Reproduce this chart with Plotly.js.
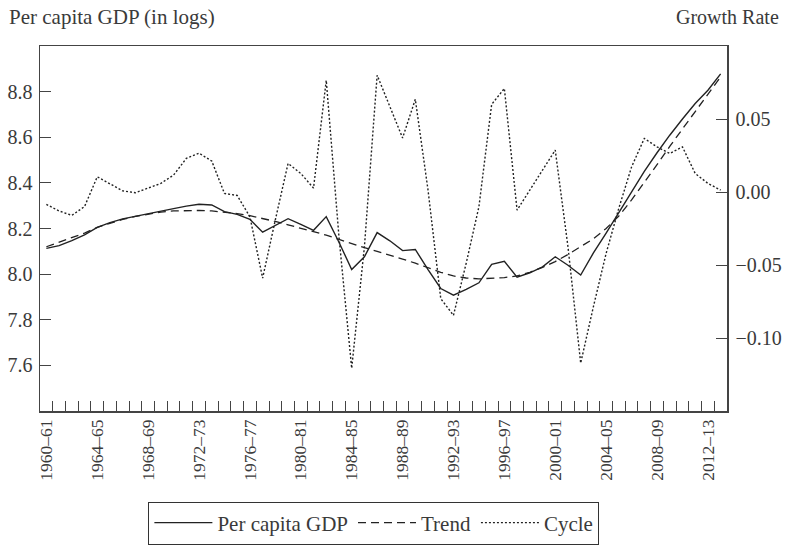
<!DOCTYPE html>
<html>
<head>
<meta charset="utf-8">
<script src="https://cdn.plot.ly/plotly-3.0.1.min.js"></script>
<style>html,body{margin:0;padding:0;background:#fff}#chart{width:786px;height:548px}</style>
</head>
<body>
<div id="chart"></div>
<script>
// Fiscal years 1960–61 ... 2013–14
const years = [];
for (let y = 1960; y <= 2013; y++) years.push(y + '\u2013' + String((y + 1) % 100).padStart(2, '0'));

const perCapitaGDP = [8.113, 8.125, 8.147, 8.172, 8.205, 8.226, 8.242, 8.254, 8.266, 8.277,
  8.287, 8.298, 8.306, 8.303, 8.274, 8.262, 8.240, 8.184, 8.213, 8.243,
  8.218, 8.192, 8.252, 8.140, 8.020, 8.076, 8.182, 8.146, 8.103, 8.108,
  8.020, 7.937, 7.908, 7.933, 7.962, 8.043, 8.056, 7.987, 8.006, 8.032,
  8.076, 8.039, 7.996, 8.093, 8.180, 8.270, 8.360, 8.450, 8.532, 8.609,
  8.680, 8.748, 8.806, 8.878];

const trend = [8.120, 8.140, 8.160, 8.180, 8.205, 8.224, 8.240, 8.253, 8.264, 8.272,
  8.277, 8.279, 8.279, 8.277, 8.272, 8.265, 8.256, 8.245, 8.231, 8.216,
  8.202, 8.187, 8.171, 8.152, 8.133, 8.116, 8.100, 8.084, 8.066, 8.048,
  8.028, 8.008, 7.992, 7.983, 7.979, 7.981, 7.985, 7.992, 8.008, 8.030,
  8.055, 8.086, 8.120, 8.155, 8.200, 8.255, 8.325, 8.400, 8.480, 8.560,
  8.637, 8.715, 8.790, 8.865];

const cycle = [-0.0085, -0.0130, -0.0160, -0.0100, 0.0104, 0.0054, 0.0008, -0.0005, 0.0025, 0.0059,
  0.0116, 0.0230, 0.0266, 0.0212, -0.0010, -0.0024, -0.0170, -0.0590, -0.0190, 0.0196,
  0.0127, 0.0027, 0.0765, -0.0307, -0.1207, -0.0375, 0.0800, 0.0583, 0.0370, 0.0635,
  0.0013, -0.0730, -0.0845, -0.0488, -0.0101, 0.0600, 0.0709, -0.0124, 0.0013, 0.0150,
  0.0287, -0.0375, -0.1172, -0.0785, -0.0420, -0.0110, 0.0172, 0.0367, 0.0309, 0.0264,
  0.0309, 0.0127, 0.0059, 0.0013];

const labelEvery = 4;
const leftTicks = [7.6, 7.8, 8.0, 8.2, 8.4, 8.6, 8.8];
const leftTickText = ['7.6', '7.8', '8.0', '8.2', '8.4', '8.6', '8.8'];
const rightTicks = [-0.10, -0.05, 0.00, 0.05];
const rightTickText = ['\u22120.10', '\u22120.05', '0.00', '0.05'];

const idx = years.map((_, i) => i);
const labelIdx = idx.filter(i => i % labelEvery === 0);
const boundaries = idx.slice(0, -1).map(i => i + 0.5);

const FONT = 'Liberation Serif, Times New Roman, serif';
const TXT = '#3a3a3a';
const LINE = '#444';

const traces = [
  {x: idx, y: perCapitaGDP, name: 'Per capita GDP', type: 'scatter', mode: 'lines',
   line: {color: '#222', width: 1.4}, yaxis: 'y'},
  {x: idx, y: trend, name: 'Trend', type: 'scatter', mode: 'lines',
   line: {color: '#222', width: 1.3, dash: '8px,5px'}, yaxis: 'y'},
  {x: idx, y: cycle, name: 'Cycle', type: 'scatter', mode: 'lines',
   line: {color: '#222', width: 1.4, dash: '2px,2px'}, yaxis: 'y2'}
];

const layout = {
  width: 786, height: 548,
  margin: {l: 40, r: 59, t: 46, b: 137},
  paper_bgcolor: '#fff', plot_bgcolor: '#fff',
  font: {family: FONT, color: TXT, size: 20},
  showlegend: true,
  legend: {orientation: 'h', xref: 'paper', x: 0.486, xanchor: 'center',
    yref: 'container', y: 0.0456, yanchor: 'middle',
    bordercolor: '#333', borderwidth: 1, bgcolor: '#fff', itemwidth: 58,
    font: {family: FONT, size: 21, color: TXT}, traceorder: 'normal'},
  xaxis: {
    automargin: false,
    range: [-0.5, 53.5], showgrid: false, zeroline: false,
    showline: true, linecolor: LINE, linewidth: 1.5, mirror: true,
    tickmode: 'array', tickvals: labelIdx, ticktext: labelIdx.map(i => years[i]),
    ticks: '', tickangle: -90, tickfont: {family: FONT, size: 17.5, color: TXT},
    minor: {tickmode: 'array', tickvals: boundaries, ticks: 'inside', ticklen: 10, tickwidth: 1, tickcolor: LINE, showgrid: false}
  },
  yaxis: {
    automargin: false,
    range: [7.4, 9.0], showgrid: false, zeroline: false,
    showline: true, linecolor: LINE, linewidth: 1.5,
    tickmode: 'array', tickvals: leftTicks, ticktext: leftTickText,
    ticks: 'inside', ticklen: 11, tickwidth: 1, tickcolor: LINE,
    ticklabelstandoff: 2,
    tickfont: {family: FONT, size: 20, color: TXT}
  },
  yaxis2: {
    automargin: false,
    overlaying: 'y', side: 'right',
    range: [-0.15, 0.10], showgrid: false, zeroline: false,
    showline: true, linecolor: LINE, linewidth: 1.5,
    tickmode: 'array', tickvals: rightTicks, ticktext: rightTickText,
    ticks: 'inside', ticklen: 11, tickwidth: 1, tickcolor: LINE,
    ticklabelstandoff: 3,
    tickfont: {family: FONT, size: 20, color: TXT}
  },
  annotations: [
    {text: 'Per capita GDP (in logs)', xref: 'paper', yref: 'paper', x: -0.048, y: 1.0786,
     xanchor: 'left', yanchor: 'middle', showarrow: false, font: {family: FONT, size: 21, color: TXT}},
    {text: 'Growth Rate', xref: 'paper', yref: 'paper', x: 1.078, y: 1.0786,
     xanchor: 'right', yanchor: 'middle', showarrow: false, font: {family: FONT, size: 20, color: TXT}}
  ]
};

Plotly.newPlot('chart', traces, layout, {displayModeBar: false, staticPlot: true});
</script>
</body>
</html>
